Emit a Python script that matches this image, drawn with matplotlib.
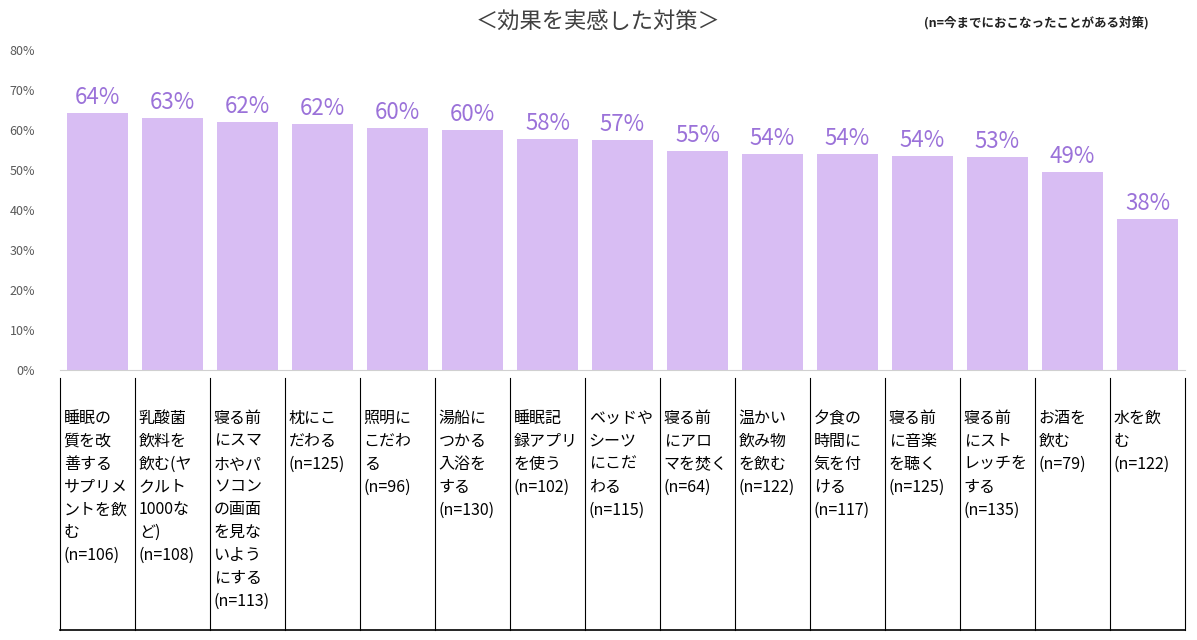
import matplotlib
matplotlib.use("Agg")
import matplotlib.pyplot as plt
import matplotlib.transforms as mtransforms

plt.rcParams["font.family"] = "Noto Sans CJK JP"

categories = [
    "睡眠の\n質を改\n善する\nサプリメ\nントを飲\nむ\n(n=106)",
    "乳酸菌\n飲料を\n飲む(ヤ\nクルト\n1000な\nど)\n(n=108)",
    "寝る前\nにスマ\nホやパ\nソコン\nの画面\nを見な\nいよう\nにする\n(n=113)",
    "枕にこ\nだわる\n(n=125)",
    "照明に\nこだわ\nる\n(n=96)",
    "湯船に\nつかる\n入浴を\nする\n(n=130)",
    "睡眠記\n録アプリ\nを使う\n(n=102)",
    "ベッドや\nシーツ\nにこだ\nわる\n(n=115)",
    "寝る前\nにアロ\nマを焚く\n(n=64)",
    "温かい\n飲み物\nを飲む\n(n=122)",
    "夕食の\n時間に\n気を付\nける\n(n=117)",
    "寝る前\nに音楽\nを聴く\n(n=125)",
    "寝る前\nにスト\nレッチを\nする\n(n=135)",
    "お酒を\n飲む\n(n=79)",
    "水を飲\nむ\n(n=122)",
]
values = [64.3, 63.0, 62.0, 61.6, 60.5, 60.0, 57.8, 57.4, 54.7, 54.1, 54.0, 53.6, 53.3, 49.4, 37.7]
labels = ["64%", "63%", "62%", "62%", "60%", "60%", "58%", "57%", "55%", "54%", "54%", "54%", "53%", "49%", "38%"]
yticks = [0, 10, 20, 30, 40, 50, 60, 70, 80]

fig = plt.figure(figsize=(11.97, 6.4), dpi=100)
ax = fig.add_axes([60/1197, 270/640, 1125/1197, 320/640])
n = len(values)
x = list(range(n))
ax.bar(x, values, width=0.82, color="#D8BDF3")
for xi, v, l in zip(x, values, labels):
    ax.text(xi, v + 1.0, l, ha="center", va="bottom", fontsize=16, color="#9B72D9")
ax.set_xlim(-0.5, n - 0.5)
ax.set_ylim(0, 80)
ax.set_yticks(yticks)
ax.set_yticklabels([f"{t}%" for t in yticks], fontsize=9, color="#595959")
ax.tick_params(axis="y", length=0, pad=18)
ax.set_xticks([])
for s in ["top", "right", "left"]:
    ax.spines[s].set_visible(False)
ax.spines["bottom"].set_color("#d0d0d0")

tr = mtransforms.blended_transform_factory(ax.transData, ax.transAxes)
ytop, ybot = -0.025, -0.8125
for b in range(n + 1):
    ax.plot([b - 0.5, b - 0.5], [ytop, ybot], color="black", lw=0.8, transform=tr, clip_on=False)
ax.plot([-0.5, n - 0.5], [ybot, ybot], color="black", lw=1.2, transform=tr, clip_on=False)
for xi, c in zip(x, categories):
    ax.text(xi - 0.45, -0.125, c, ha="left", va="top", fontsize=11.5, transform=tr,
            linespacing=1.45, color="black")

fig.text(0.5, 0.965, "＜効果を実感した対策＞", ha="center", va="center", fontsize=16, color="#404040")
fig.text(0.96, 0.965, "(n=今までにおこなったことがある対策)", ha="right", va="center", fontsize=9,
         fontweight="bold", color="#222222")
fig.savefig("out.png", dpi=100)
